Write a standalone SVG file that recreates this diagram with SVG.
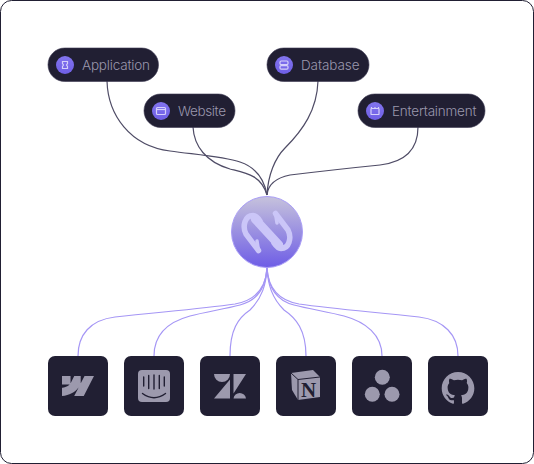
<svg xmlns="http://www.w3.org/2000/svg" width="534" height="464" viewBox="0 0 534 464">
<style>
.pill{fill:#211f33;stroke:#3a3850;stroke-width:.6}
.dot{fill:url(#dotGrad)}
.gl{fill:none;stroke:#d5d0fa;stroke-width:1.2}
.lbl{font-family:"Inter","Liberation Sans",sans-serif;font-size:13.500px;font-weight:300;fill:#9a97ad}
.sq{fill:#211f33}
.ic{fill:#9c99ad}
.top{fill:none;stroke:#4f4c66;stroke-width:1.200}
.bot{fill:none;stroke:#a596f5;stroke-width:1.200}
.logo{fill:none;stroke:#cbc6f8;stroke-linecap:round;stroke-linejoin:round}
</style>
<defs>
<linearGradient id="dotGrad" x1="0" y1="0" x2="0" y2="1"><stop offset="0" stop-color="#8274ee"/><stop offset="1" stop-color="#6f5fe6"/></linearGradient>
<linearGradient id="hub" x1="0" y1="0" x2="0" y2="1"><stop offset="0" stop-color="#c6c2dc"/><stop offset="1" stop-color="#6e5de6"/></linearGradient>
</defs>
<rect x=".5" y=".5" width="533" height="463" rx="11" fill="#fff" stroke="#211f33"/>
<g id="connectors">
<path class="top" d="M107 81C108 115 130 146 170 151C200 155 225 157 240 162C255 167 264 178 267 195"/>
<path class="top" d="M193 127C194 146 206 162 230 169C246 173 261 175 267 195"/>
<path class="top" d="M318 81C317 110 303 130 285 148C275 158 268 175 267 195"/>
<path class="top" d="M418 127C418 150 405 162 380 165C350 168 315 172 290 175C275 178 268 185 267 195"/>
<path class="bot" d="M267 268C266 285 258 300 235 304C200 309 160 312 115 317C90 320 78 335 78 356"/>
<path class="bot" d="M267 268C266 285 260 300 240 305C225 309 205 312 190 316C168 322 154 335 154 356"/>
<path class="bot" d="M267 268C266 285 262 298 250 310C238 318 230 330 230 356"/>
<path class="bot" d="M267 268C268 285 272 298 284 310C296 318 306 330 306 356"/>
<path class="bot" d="M267 268C268 285 274 300 294 305C309 309 329 312 344 316C366 322 382 335 382 356"/>
<path class="bot" d="M267 268C268 285 276 300 299 304C334 309 374 312 419 317C444 320 458 335 458 356"/>
</g>
<g id="node-application">
<rect class="pill" x="48" y="48" width="110.500" height="33.500" rx="16.700"/>
<circle class="dot" cx="65" cy="65" r="9"/>
<path class="gl" d="M62.500 61.500h5v2l-1 1.500 1 1.500v2h-5v-2l1-1.500-1-1.500z"/>
<text class="lbl" x="82" y="69.500" textLength="68">Application</text>
</g>
<g id="node-website">
<rect class="pill" x="144" y="94" width="91" height="33.500" rx="16.700"/>
<circle class="dot" cx="161" cy="111" r="9"/>
<rect class="gl" x="156.500" y="107.500" width="9" height="7" rx="1"/>
<path class="gl" d="M156.500 109.500h9"/>
<text class="lbl" x="178" y="115.500" textLength="48">Website</text>
</g>
<g id="node-database">
<rect class="pill" x="267" y="48" width="102" height="33.500" rx="16.700"/>
<circle class="dot" cx="284" cy="65" r="9"/>
<rect class="gl" x="280" y="61" width="8" height="3.600" rx="1.200"/>
<rect class="gl" x="280" y="65.600" width="8" height="3.600" rx="1.200"/>
<text class="lbl" x="301" y="69.500" textLength="58.500">Database</text>
</g>
<g id="node-entertainment">
<rect class="pill" x="358" y="94" width="127" height="33.500" rx="16.700"/>
<circle class="dot" cx="375" cy="111" r="9"/>
<rect class="gl" x="371" y="108.500" width="8" height="6" rx=".6"/>
<path class="gl" d="M371.500 107v1.500M375 107v1.500M378.500 107v1.500"/>
<text class="lbl" x="392" y="115.500" textLength="84.500">Entertainment</text>
</g>
<g id="node-hub">
<circle cx="267" cy="232" r="35.500" fill="url(#hub)" stroke="#a99df6" stroke-width="1"/>
<path class="logo" stroke-width="5.500" d="M258.500 250.500L246 234C242 226 245 215.500 253 215.500C256 215.500 258 218 260 221M275.500 213.500L288 230C292 238 289 248.500 281 248.500C278 248.500 276 246 274 243"/>
<path class="logo" stroke-width="8.500" d="M255 219L279 245"/>
<path class="logo" stroke-width="3.500" d="M258.500 250.500L257 241M275.500 213.500L277 223"/>
</g>
<g id="node-webflow">
<rect class="sq" x="48" y="356" width="60" height="60" rx="7"/>
<path class="ic" transform="translate(62 370) scale(1.333)" d="m24 4.515-7.658 14.970H9.149l3.205-6.204h-.144C9.566 16.713 5.621 18.973 0 19.485v-6.118s3.596-.213 5.710-2.435H0V4.515h6.417v5.278l.144-.001 2.622-5.277h4.854v5.244h.144l2.720-5.244H24Z"/>
</g>
<g id="node-intercom">
<rect class="sq" x="124" y="356" width="60" height="60" rx="7"/>
<rect class="ic" x="138" y="370" width="32" height="32" rx="4"/>
<path fill="none" stroke="#211f33" stroke-width="1.400" stroke-linecap="round" d="M143.700 377v9M148.700 375.500v13M154 375v14M159.300 375.500v13M164.300 377v9M142.500 393.500C150 399 158 399 165.500 393.500"/>
</g>
<g id="node-zendesk">
<rect class="sq" x="200" y="356" width="60" height="60" rx="7"/>
<path class="ic" d="M214 374H230A8 8 0 0 1 214 374ZM230 379.500V398.500H214ZM233.500 374H246L233.500 393.500ZM233.500 398.500A6.300 6.300 0 0 1 246 398.500Z"/>
</g>
<g id="node-notion">
<rect class="sq" x="276" y="356" width="60" height="60" rx="7"/>
<path class="ic" d="M291 373L313 370L320 377L320 397L298 400L292 390Z"/>
<path fill="none" stroke="#211f33" stroke-width="1" d="M291 373L298 379.500L320 377M298 379.500V400"/>
<text x="308.500" y="397" text-anchor="middle" font-family="Liberation Serif,serif" font-size="21" font-weight="700" fill="#211f33">N</text>
</g>
<g id="node-asana">
<rect class="sq" x="352" y="356" width="60" height="60" rx="7"/>
<circle class="ic" cx="382.300" cy="377.300" r="7.500"/>
<circle class="ic" cx="372.300" cy="394.300" r="7.500"/>
<circle class="ic" cx="392" cy="394.300" r="7.500"/>
</g>
<g id="node-github">
<rect class="sq" x="428" y="356" width="60" height="60" rx="7"/>
<path class="ic" transform="translate(441.700 371.500) scale(1.360)" d="M12 .297c-6.630 0-12 5.373-12 12 0 5.303 3.438 9.800 8.205 11.385.600.113.820-.258.820-.577 0-.285-.010-1.040-.015-2.040-3.338.724-4.042-1.610-4.042-1.610C4.422 18.070 3.633 17.700 3.633 17.700c-1.087-.744.084-.729.084-.729 1.205.084 1.838 1.236 1.838 1.236 1.070 1.835 2.809 1.305 3.495.998.108-.776.417-1.305.760-1.605-2.665-.300-5.466-1.332-5.466-5.930 0-1.310.465-2.380 1.235-3.220-.135-.303-.540-1.523.105-3.176 0 0 1.005-.322 3.300 1.230.960-.267 1.980-.399 3-.405 1.020.006 2.040.138 3 .405 2.280-1.552 3.285-1.230 3.285-1.230.645 1.653.240 2.873.120 3.176.765.840 1.230 1.910 1.230 3.220 0 4.610-2.805 5.625-5.475 5.920.420.360.810 1.096.810 2.220 0 1.606-.015 2.896-.015 3.286 0 .315.210.690.825.570C20.565 22.092 24 17.592 24 12.297c0-6.627-5.373-12-12-12"/>
</g>
</svg>
